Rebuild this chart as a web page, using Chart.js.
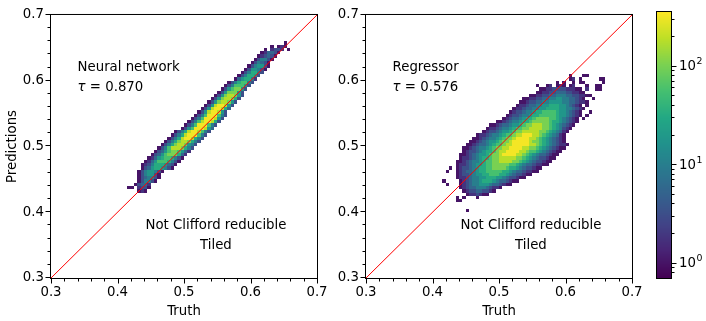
<!DOCTYPE html>
<html>
<head>
<meta charset="utf-8">
<script src="https://cdn.jsdelivr.net/npm/chart.js@4.4.1/dist/chart.umd.min.js"></script>
<style>
  html, body { margin: 0; padding: 0; background: #fff; }
  #wrap { position: relative; width: 706px; height: 321px; overflow: hidden; }
  canvas { position: absolute; top: 0; }
</style>
</head>
<body>
<div id="wrap">
  <canvas id="nn" width="340" height="321" style="left:0px"></canvas>
  <canvas id="reg" width="334" height="321" style="left:316px"></canvas>
  <canvas id="cbar" width="56" height="321" style="left:650px"></canvas>
</div>
<script>
// ---- data -------------------------------------------------------------
const BIN = 0.005;                       // histogram bin width (both axes)
const axisTicks = [0.3, 0.4, 0.5, 0.6, 0.7];
const colorbarTicks = [1, 10, 100];
const colorbarRange = [0.72, 350];
const nnTau = 0.870;
const regTau = 0.576;

// each code is a bin count, a quarter decade apart
const levelCodes = '123456789ab';
const levelCounts = [1, 1.8, 3.2, 5.6, 10, 18, 32, 56, 100, 180, 320];

// histogram rows: [prediction bin, first truth bin, count codes ('.' = empty)]
const nnRows = [
  [0.655, 0.650, '1'],
  [0.650, 0.630, '1.121'],
  [0.645, 0.620, '1.2332.1'],
  [0.640, 0.615, '124431'],
  [0.635, 0.610, '123431'],
  [0.630, 0.605, '135531'],
  [0.625, 0.600, '135431'],
  [0.620, 0.595, '1356631'],
  [0.615, 0.590, '1366531'],
  [0.610, 0.585, '1357753'],
  [0.605, 0.580, '1357763'],
  [0.600, 0.575, '1467752'],
  [0.595, 0.565, '13578853'],
  [0.590, 0.560, '13588863'],
  [0.585, 0.555, '13689963'],
  [0.580, 0.550, '13699963'],
  [0.575, 0.545, '1369aa963'],
  [0.570, 0.540, '1369aa973'],
  [0.565, 0.535, '1369aa963'],
  [0.560, 0.530, '136abba63'],
  [0.555, 0.525, '136abba74'],
  [0.550, 0.520, '136abba63'],
  [0.545, 0.515, '1358bbb853'],
  [0.540, 0.510, '1358bbba63'],
  [0.535, 0.505, '1358abba73'],
  [0.530, 0.500, '1358bbb853'],
  [0.525, 0.495, '1368bbba64'],
  [0.520, 0.485, '1357abba853'],
  [0.515, 0.480, '1357abbb853'],
  [0.510, 0.475, '1357abba753'],
  [0.505, 0.470, '13579aa9753'],
  [0.500, 0.465, '13579aa9653'],
  [0.495, 0.460, '1358aaa9753'],
  [0.490, 0.455, '13468998642'],
  [0.485, 0.450, '13468999742'],
  [0.480, 0.445, '12467887531'],
  [0.475, 0.440, '12468887531'],
  [0.470, 0.435, '12357776431'],
  [0.465, 0.435, '1346776531'],
  [0.460, 0.430, '13566531'],
  [0.455, 0.430, '1356631'],
  [0.450, 0.430, '1345531'],
  [0.445, 0.430, '135531'],
  [0.440, 0.425, '13442'],
  [0.435, 0.415, '11.2331'],
  [0.430, 0.430, '121']
];

const regRows = [
  [0.605, 0.605, '1...11'],
  [0.600, 0.605, '12.1.....11'],
  [0.595, 0.585, '1.1..1.11.....1'],
  [0.590, 0.555, '1..12.121.12...1..11'],
  [0.585, 0.560, '1122333322211.2..11'],
  [0.580, 0.555, '112233444332211'],
  [0.575, 0.545, '1122334455544332211'],
  [0.570, 0.535, '1122334455665544321..1'],
  [0.565, 0.530, '112334455666655443221'],
  [0.560, 0.525, '12234455667776654321.1'],
  [0.555, 0.520, '1223445566777766554321'],
  [0.550, 0.515, '1233455677888876654321..1'],
  [0.545, 0.510, '12334556778888876654321.1'],
  [0.540, 0.505, '12344567789999887654321.1'],
  [0.535, 0.495, '1123455677899999877654321'],
  [0.530, 0.485, '1123445667899aaa9987654321'],
  [0.525, 0.480, '1223455678899aaaa998765321'],
  [0.520, 0.475, '123345667899aaaaa998765421'],
  [0.515, 0.465, '122345567889aabbbaa98765421'],
  [0.510, 0.460, '112345567899abbbbaa987654321'],
  [0.505, 0.455, '112345667899abbbbba9987654321'],
  [0.500, 0.450, '112344567889aabbbbbaa9876543221'],
  [0.495, 0.445, '112345567899aabbbbaa99876543211'],
  [0.490, 0.445, '12334567789aabbbbaa98876543211'],
  [0.485, 0.440, '112345667899abbbbaa98765443211'],
  [0.480, 0.440, '122345677899aaaaa998765433211'],
  [0.475, 0.435, '1123455678899aaaa998765433211'],
  [0.470, 0.435, '1223456678899999887654432211'],
  [0.465, 0.425, '1.12334567788999987765433211'],
  [0.460, 0.420, '1..1234456778888877654432211'],
  [0.455, 0.435, '12334566778887765433211'],
  [0.450, 0.435, '122345566777665433211'],
  [0.445, 0.415, '1....123455677765443211'],
  [0.440, 0.420, '1...1234556665443211'],
  [0.435, 0.440, '1234455543221'],
  [0.430, 0.445, '1233443321'],
  [0.425, 0.450, '1223211'],
  [0.420, 0.435, '1.1...1'],
  [0.415, 0.435, '11'],
  [0.400, 0.450, '1']
];

const diagonal = [{ x: 0.3, y: 0.3 }, { x: 0.7, y: 0.7 }];

// ---- styling ----------------------------------------------------------
const FONT_FAMILY = "'DejaVu Sans', sans-serif";
const FONT_SIZE = 13.3;
const FONT = FONT_SIZE + 'px ' + FONT_FAMILY;
const MAJOR_TICK = 4.5;
const MINOR_TICK = 2.5;

Chart.defaults.font.family = FONT_FAMILY;
Chart.defaults.font.size = FONT_SIZE;
Chart.defaults.color = '#000';

const viridis = ['#440154', '#482475', '#414487', '#355f8d', '#2a788e', '#21918c',
                 '#22a884', '#44bf70', '#7ad151', '#bddf26', '#fde725'];
const viridisRgb = viridis.map(h => [1, 3, 5].map(k => parseInt(h.slice(k, k + 2), 16)));

function colourFor(count) {
  const lo = Math.log10(colorbarRange[0]), hi = Math.log10(colorbarRange[1]);
  let t = (Math.log10(count) - lo) / (hi - lo);
  t = Math.min(1, Math.max(0, t)) * (viridisRgb.length - 1);
  const k = Math.min(Math.floor(t), viridisRgb.length - 2);
  const f = t - k, a = viridisRgb[k], b = viridisRgb[k + 1];
  return 'rgb(' + a.map((c, n) => Math.round(c + (b[n] - c) * f)).join(',') + ')';
}

// turn the coded rows into one point per filled bin
const toCells = rows => rows.flatMap(([y, x0, codes]) =>
  [...codes].map((ch, k) => ch === '.' ? null :
    { x: x0 + k * BIN, y: y, v: levelCounts[levelCodes.indexOf(ch)] }).filter(Boolean));

// draws each bin of the first dataset as a filled square, through the scales
const cellsPlugin = {
  id: 'cells',
  beforeDatasetsDraw(chart) {
    const { ctx, scales: { x, y } } = chart;
    ctx.save();
    for (const c of chart.data.datasets[0].data) {
      const x1 = Math.round(x.getPixelForValue(c.x)), x2 = Math.round(x.getPixelForValue(c.x + BIN));
      const y1 = Math.round(y.getPixelForValue(c.y + BIN)), y2 = Math.round(y.getPixelForValue(c.y));
      ctx.fillStyle = colourFor(c.v);
      ctx.fillRect(x1, y1, x2 - x1, y2 - y1);
    }
    ctx.restore();
  }
};

// box around the axes plus major and minor tick marks
const framePlugin = {
  id: 'frame',
  afterDraw(chart) {
    const { ctx, chartArea: a, scales: { x, y } } = chart;
    ctx.save();
    ctx.strokeStyle = '#000';
    ctx.lineWidth = 1;
    ctx.strokeRect(a.left - 0.5, a.top - 0.5, a.width + 1, a.height + 1);
    ctx.beginPath();
    for (let k = 0; k <= 20; k++) {
      const v = 0.3 + k * 0.02;
      const len = k % 5 === 0 ? MAJOR_TICK : MINOR_TICK;
      let px = Math.round(x.getPixelForValue(v)) + 0.5;
      px = Math.min(Math.max(px, a.left - 0.5), a.right + 0.5);
      ctx.moveTo(px, a.bottom + 1);
      ctx.lineTo(px, a.bottom + 1 + len);
      let py = Math.round(y.getPixelForValue(v)) - 0.5;
      py = Math.min(Math.max(py, a.top - 0.5), a.bottom + 0.5);
      ctx.moveTo(a.left - 1, py);
      ctx.lineTo(a.left - 1 - len, py);
    }
    ctx.stroke();
    ctx.restore();
  }
};

// text annotations in data coordinates
const notesPlugin = {
  id: 'notes',
  afterDatasetsDraw(chart, args, opts) {
    const { ctx, scales: { x, y } } = chart;
    ctx.save();
    ctx.fillStyle = '#000';
    ctx.textBaseline = 'alphabetic';
    for (const n of opts.items) {
      let px = x.getPixelForValue(n.x);
      const py = y.getPixelForValue(n.y);
      ctx.textAlign = n.align;
      if (n.symbol) {
        ctx.font = 'italic ' + FONT;
        ctx.fillText(n.symbol, px, py);
        px += ctx.measureText(n.symbol).width;
      }
      ctx.font = FONT;
      ctx.fillText(n.text, px, py);
    }
    ctx.restore();
  }
};

function histogramChart(id, rows, label, tau, yWidth, rightPad, yTitle) {
  const axis = (w, h, title, pad) => ({
    type: 'linear', min: 0.3, max: 0.7,
    afterBuildTicks: s => { s.ticks = axisTicks.map(v => ({ value: v })); },
    afterFit: s => { if (w) s.width = w; if (h) s.height = h; },
    ticks: { padding: 7, maxRotation: 0, callback: v => v.toFixed(1) },
    grid: { display: false, drawTicks: false },
    border: { display: false },
    title: title ? { display: true, text: title, padding: pad } : { display: false }
  });
  return new Chart(document.getElementById(id), {
    type: 'scatter',
    data: {
      datasets: [
        { data: toCells(rows), pointRadius: 0, pointHoverRadius: 0 },
        { data: diagonal, showLine: true, borderColor: '#ff0000', borderWidth: 1,
          pointRadius: 0, pointHoverRadius: 0 }
      ]
    },
    options: {
      responsive: false,
      animation: false,
      events: [],
      layout: { padding: { left: 0, top: 12, right: rightPad, bottom: 0 } },
      scales: {
        x: axis(0, 43, 'Truth', { top: 3, bottom: 1 }),
        y: axis(yWidth, 0, yTitle, { top: 5, bottom: 3 })
      },
      plugins: {
        legend: { display: false },
        tooltip: { enabled: false },
        notes: {
          items: [
            { x: 0.34, y: 0.615, text: label, align: 'left' },
            { x: 0.34, y: 0.584, symbol: 'τ', text: ' = ' + tau.toFixed(3), align: 'left' },
            { x: 0.548, y: 0.374, text: 'Not Clifford reducible', align: 'center' },
            { x: 0.548, y: 0.3436, text: 'Tiled', align: 'center' }
          ]
        }
      }
    },
    plugins: [cellsPlugin, framePlugin, notesPlugin]
  });
}

histogramChart('nn', nnRows, 'Neural network', nnTau, 51, 23, 'Predictions');
histogramChart('reg', regRows, 'Regressor', regTau, 50, 18, null);

// colour bar: gradient, outline, log ticks and 10^n labels
const colorbarPlugin = {
  id: 'colorbar',
  afterDraw(chart) {
    const { ctx, chartArea: a, scales: { y } } = chart;
    ctx.save();
    for (let py = Math.round(a.top); py < Math.round(a.bottom); py++) {
      ctx.fillStyle = colourFor(y.getValueForPixel(py + 0.5));
      ctx.fillRect(a.left, py, a.width, 1);
    }
    ctx.strokeStyle = '#000';
    ctx.lineWidth = 1;
    ctx.strokeRect(a.left - 0.5, a.top - 0.5, a.width + 1, a.height + 1);
    ctx.beginPath();
    for (let dec = -1; dec <= 2; dec++) {
      for (let m = 1; m <= 9; m++) {
        const v = m * Math.pow(10, dec);
        if (v < colorbarRange[0] || v > colorbarRange[1]) continue;
        const py = Math.round(y.getPixelForValue(v)) + 0.5;
        ctx.moveTo(a.right + 1, py);
        ctx.lineTo(a.right + 1 + (m === 1 ? MAJOR_TICK : MINOR_TICK), py);
      }
    }
    ctx.stroke();
    ctx.fillStyle = '#000';
    ctx.textAlign = 'left';
    ctx.textBaseline = 'middle';
    for (const v of colorbarTicks) {
      const py = y.getPixelForValue(v);
      const px = a.right + 1 + MAJOR_TICK + 2.5;
      ctx.font = FONT;
      ctx.fillText('10', px, py + 1);
      const w = ctx.measureText('10').width;
      ctx.font = '9.4px ' + FONT_FAMILY;
      ctx.fillText(String(Math.round(Math.log10(v))), px + w + 0.5, py - 4);
    }
    ctx.restore();
  }
};

new Chart(document.getElementById('cbar'), {
  type: 'scatter',
  data: { datasets: [] },
  options: {
    responsive: false,
    animation: false,
    events: [],
    layout: { padding: { left: 7, top: 12, right: 0, bottom: 43 } },
    scales: {
      x: { display: false, min: 0, max: 1 },
      y: {
        type: 'logarithmic', position: 'right',
        min: colorbarRange[0], max: colorbarRange[1],
        afterBuildTicks: s => { s.ticks = colorbarTicks.map(v => ({ value: v })); },
        afterFit: s => { s.width = 35; },
        ticks: { display: false },
        grid: { display: false, drawTicks: false },
        border: { display: false }
      }
    },
    plugins: { legend: { display: false }, tooltip: { enabled: false } }
  },
  plugins: [colorbarPlugin]
});
</script>
</body>
</html>
